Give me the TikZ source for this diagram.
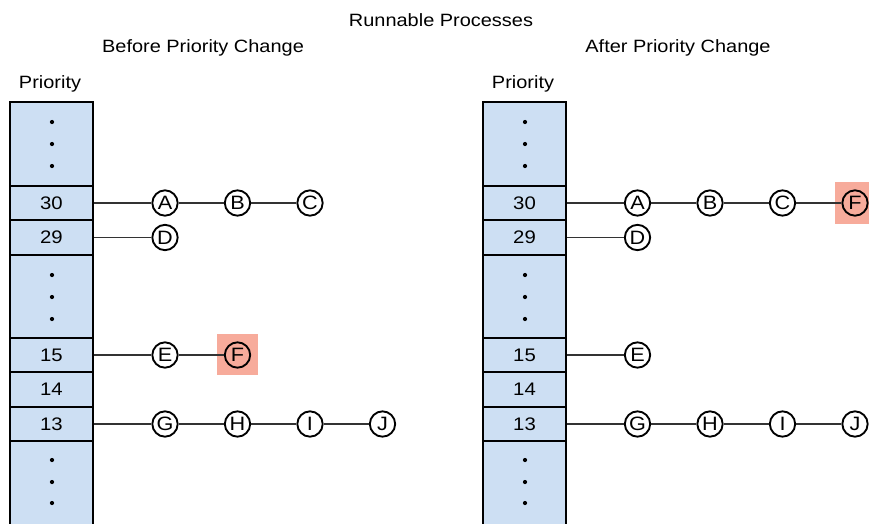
\documentclass[tikz,border=0pt]{standalone}
\usepackage{fontspec}
\setmainfont[FakeStretch=1.12]{Liberation Sans}

\definecolor{rowblue}{RGB}{205,223,243}
\definecolor{markred}{RGB}{247,171,155}

\tikzset{
	cell/.style={draw, line width=1.5pt, fill=rowblue, minimum width=2.49cm, minimum height=1.035cm, inner sep=0pt, font=\fontsize{15.5}{18}\selectfont},
	proc/.style={circle, draw, line width=1.6pt, minimum size=0.76cm, inner sep=0pt, font=\fontsize{16.5}{18}\selectfont},
	hilite/.style={fill=markred, minimum size=1.25cm, inner sep=0pt},
	link/.style={line width=0.9pt, black!80},
	heading/.style={font=\fontsize{15.2}{18}\selectfont, anchor=base},
}

\begin{document}
\begin{tikzpicture}[x=0.03cm, y=-0.03cm]
	\clip (0,0) rectangle (869,523);  % picture frame
	
	% Headings
	\node[heading] (title) at (441,26) {Runnable Processes};
	\node[heading] (before) at (203,52.5) {Before Priority Change};
	\node[heading] (after) at (678,52.5) {After Priority Change};
	\node[heading] (lprio) at (50,88) {Priority};
	\node[heading] (rprio) at (523,88) {Priority};
	
	% Priority columns
	\fill[rowblue] (10,102) rectangle (93,540);
	\fill[rowblue] (483,102) rectangle (566,540);
	
	% Left column, before the change
	\node[cell] (l30) at (51.5,203) {30};
	\node[cell] (l29) at (51.5,237.5) {29};
	\node[cell] (l15) at (51.5,355) {15};
	\node[cell] (l14) at (51.5,389.5) {14};
	\node[cell] (l13) at (51.5,424) {13};
	\draw[line width=2.5pt] (10,540) -- (10,102) -- (93,102) -- (93,540);
	
	% Right column, after the change
	\node[cell] (r30) at (524.5,203) {30};
	\node[cell] (r29) at (524.5,237.5) {29};
	\node[cell] (r15) at (524.5,355) {15};
	\node[cell] (r14) at (524.5,389.5) {14};
	\node[cell] (r13) at (524.5,424) {13};
	\draw[line width=2.5pt] (483,540) -- (483,102) -- (566,102) -- (566,540);
	
	% Dots for the rows left out
	\foreach \y in {122,144,166,275,297,319,460,482,503} {
		\fill (52,\y) circle (1.8pt);
		\fill (525,\y) circle (1.8pt);
	}
	
	% Marks behind the moved process F
	\node[hilite] (lmark) at (237.5,354.5) {};
	\node[hilite] (rmark) at (855.5,203) {};
	
	% Processes before the change
	\node[proc] (lA) at (165,203) {A};
	\node[proc] (lB) at (237.5,203) {B};
	\node[proc] (lC) at (310,203) {C};
	\node[proc] (lD) at (165,237.5) {D};
	\node[proc] (lE) at (165,355) {E};
	\node[proc] (lF) at (237.5,355) {F};
	\node[proc] (lG) at (165,424) {G};
	\node[proc] (lH) at (237.5,424) {H};
	\node[proc] (lI) at (310,424) {I};
	\node[proc] (lJ) at (382.5,424) {J};
	\draw[link] (l30) -- (lA) -- (lB) -- (lC);
	\draw[link] (l29) -- (lD);
	\draw[link] (l15) -- (lE) -- (lF);
	\draw[link] (l13) -- (lG) -- (lH) -- (lI) -- (lJ);
	
	% Processes after the change
	\node[proc] (rA) at (637.5,203) {A};
	\node[proc] (rB) at (710,203) {B};
	\node[proc] (rC) at (782.5,203) {C};
	\node[proc] (rF) at (855,203) {F};
	\node[proc] (rD) at (637.5,237.5) {D};
	\node[proc] (rE) at (637.5,355) {E};
	\node[proc] (rG) at (637.5,424) {G};
	\node[proc] (rH) at (710,424) {H};
	\node[proc] (rI) at (782.5,424) {I};
	\node[proc] (rJ) at (855,424) {J};
	\draw[link] (r30) -- (rA) -- (rB) -- (rC) -- (rF);
	\draw[link] (r29) -- (rD);
	\draw[link] (r15) -- (rE);
	\draw[link] (r13) -- (rG) -- (rH) -- (rI) -- (rJ);
\end{tikzpicture}
\end{document}
